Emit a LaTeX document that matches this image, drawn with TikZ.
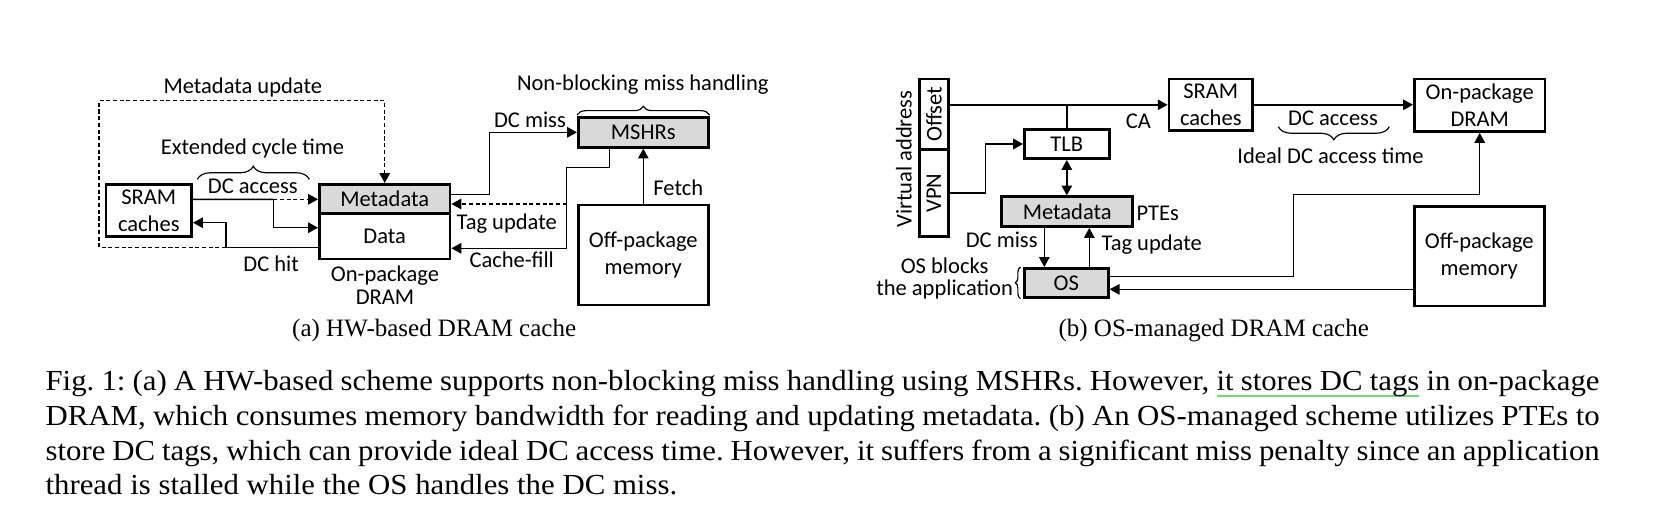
\documentclass[tikz,border=0pt]{standalone}
\usepackage{fontspec}
\setmainfont{Liberation Serif}
\newfontfamily\diagfont{Carlito}
\newfontfamily\capfont[FakeStretch=1.06]{Liberation Serif}
\usepackage{graphicx}
\usetikzlibrary{arrows.meta,calc,decorations.pathreplacing}
\definecolor{meta_gray}{RGB}{217,217,217}
\definecolor{mark_green}{RGB}{102,226,102}
% green underline, word by word, with stretchable underlined spaces
\newcommand{\ulword}[1]{\setbox0\hbox{#1}\rlap{\textcolor{mark_green}{\rule[-2.3pt]{\wd0}{0.5pt}}}\box0{}}
\newcommand{\ulspace}{{\color{mark_green}\leaders\hrule height -1.8pt depth 2.3pt\hskip\fontdimen2\font plus\fontdimen3\font minus\fontdimen4\font}}
\frenchspacing

\begin{document}
\begin{tikzpicture}[x=0.344pt, y=-0.344pt,
    >={Triangle[length=3.4pt,width=3.6pt]},
    every node/.style={inner sep=0pt, font=\diagfont\fontsize{7.75}{9.2}\selectfont},
    blk/.style={draw, line width=0.9pt, fill=white, align=center},
    shaded/.style={blk, fill=meta_gray},
    wire/.style={line width=0.5pt},
    dashwire/.style={wire, dash pattern=on 1.4pt off 0.9pt},
    curly/.style={decorate, decoration={brace, amplitude=#1}, line width=0.4pt},
    curly/.default=4.5pt,
    subcap/.style={anchor=base, font=\rmfamily\fontsize{8.6}{10}\selectfont}]

    \useasboundingbox (0,0) rectangle (1661,527);

    % (a) HW-based DRAM cache
    \node[blk, minimum width=29.5pt, minimum height=18pt] (sram_a) at (148.8,210.5) {SRAM\\caches};
    \node[shaded, minimum width=45pt, minimum height=10pt] (meta_a) at (384.7,198.8) {Metadata};
    \node[blk, minimum width=45pt, minimum height=15.7pt] (data_a) at (384.7,236.2) {Data};
    \node[shaded, minimum width=44.7pt, minimum height=10.3pt] (mshr) at (643.3,132.3) {MSHRs};
    \node[blk, minimum width=44.7pt, minimum height=34.4pt] (offmem_a) at (643.3,255) {Off-package\\memory};

    \node (lbl_update) at (242.8,87.3) {Metadata update};
    \node (lbl_cycle) at (252.5,148.3) {Extended cycle time};
    \node (lbl_access_a) at (252.8,186.7) {DC access};
    \node (lbl_hit) at (271.2,263.3) {DC hit};
    \node[align=center, font=\diagfont\fontsize{7.75}{8}\selectfont] (lbl_dram_a) at (385,285) {On-package\\DRAM};
    \node (lbl_miss_a) at (530,120) {DC miss};
    \node (lbl_tag_a) at (506.7,223.3) {Tag update};
    \node (lbl_fill) at (511.7,259.3) {Cache-fill};
    \node (lbl_fetch) at (678.3,187.7) {Fetch};
    \node (lbl_nonblock) at (642.8,85) {Non-blocking miss handling};

    \coordinate (hit) at (226,247.3);
    \coordinate (upd) at (99,100.7);
    \coordinate (acc) at (273.3,199.3);
    \coordinate (miss) at (489.3,194.3);
    \coordinate (refill) at (566.7,167.3);
    \coordinate (tag_a) at ($(meta_a.east)+(0,5.2)$);

    \draw[wire,->] (hit -| data_a.west) -- (hit) |- ($(sram_a.east)+(0,12.2)$);
    \draw[dashwire,->] (hit) -| (upd) -| (meta_a.north);
    \draw[wire] ($(sram_a.east)+(0,-11.2)$) -- (acc);
    \draw[dashwire,->] (acc) -- (acc -| meta_a.west);
    \draw[wire,->] (acc) |- ($(data_a.west)+(0,-8.5)$);
    \draw[curly] (197.3,179.3) -- (309.3,179.3);

    \draw[wire,->] (miss -| meta_a.east) -- (miss) |- (mshr.west);
    \draw[wire,->] ($(mshr.south)+(-34,0)$) |- (refill) |- ($(data_a.east)+(0,12.1)$);
    \draw[dashwire,->] (refill |- tag_a) -- (tag_a);
    \draw[wire,->] (offmem_a) -- (mshr);
    \draw[curly=3pt] ($(mshr.north west)+(0,-1)$) -- ($(mshr.north east)+(0,-1)$);

    % (b) OS-managed DRAM cache
    \node[blk, minimum width=10pt, minimum height=24.2pt] (offset) at (933.8,114.2) {\rotatebox{90}{Offset}};
    \node[blk, minimum width=10pt, minimum height=30.1pt] (vpn) at (933.8,193) {\rotatebox{90}{VPN}};
    \node[rotate=90] (lbl_va) at (904,159.2) {Virtual address};
    \node[blk, minimum width=29.2pt, minimum height=10.1pt] (tlb) at (1066.8,144) {TLB};
    \node[shaded, minimum width=45pt, minimum height=10.3pt] (meta_b) at (1067.2,211.7) {Metadata};
    \node[shaded, minimum width=28.9pt, minimum height=10pt] (os) at (1066.3,282.8) {OS};
    \node[blk, minimum width=28.8pt, minimum height=17.8pt] (sram_b) at (1210.8,104.8) {SRAM\\caches};
    \node[blk, minimum width=45pt, minimum height=18.1pt] (dram_b) at (1479.7,105.3) {On-package\\DRAM};
    \node[blk, minimum width=44.7pt, minimum height=34.2pt] (offmem_b) at (1479.3,256.3) {Off-package\\memory};

    \node (lbl_ca) at (1138.3,121.7) {CA};
    \node (lbl_ptes) at (1157.8,213.3) {PTEs};
    \node (lbl_miss_b) at (1001.7,240) {DC miss};
    \node (lbl_tag_b) at (1151.7,245) {Tag update};
    \node[align=center, font=\diagfont\fontsize{7.75}{7.6}\selectfont] (lbl_block) at (944.6,278.6) {OS blocks\\the application};
    \node (lbl_access_b) at (1333,118.3) {DC access};
    \node (lbl_ideal) at (1330.5,156) {Ideal DC access time};

    \coordinate (vpnbend) at ($(tlb.west)+(-37.6,0)$);
    \coordinate (up) at (1293.3,194.3);
    \coordinate (ret) at ($(offmem_b.west)+(0,33)$);

    \draw[wire,->] (offset.east |- sram_b.west) -- (sram_b.west);
    \draw[wire] (tlb.north) -- (tlb.north |- sram_b.west);
    \draw[wire,->] (vpn.east) -| (vpnbend) -- (tlb.west);
    \draw[wire,<->] (tlb.south) -- (tlb.south |- meta_b.north);
    \draw[wire,->] ($(meta_b.south)+(-22.9,0)$) coordinate (m_down) -- (m_down |- os.north);
    \draw[wire,->] ($(os.north)+(23,0)$) coordinate (m_up) -- (m_up |- meta_b.south);
    \draw[curly=1.8pt] ($(os.south west)+(-2.5,0)$) -- ($(os.north west)+(-2.5,0)$);
    \draw[wire,->] ($(os.east)+(0,-6.1)$) -| (up) -| (dram_b.south);
    \draw[wire,->] (ret) -- (ret -| os.east);
    \draw[wire,->] (sram_b.east) -- (sram_b.east -| dram_b.west);
    \draw[curly] (1389.3,126.7) -- (1278.3,126.7);

    % captions
    \node[subcap] (cap_a) at (434.2,336.3) {(a) HW-based DRAM cache};
    \node[subcap] (cap_b) at (1213.7,336.3) {(b) OS-managed DRAM cache};
    \node[anchor=north west, text width=534.6pt, align=justify,
          font=\capfont\fontsize{10}{12}\selectfont] (caption) at (45,369.5)
      {Fig. 1: (a) A HW-based scheme supports non-blocking miss handling using MSHRs. However, \ulword{it}\ulspace\ulword{stores}\ulspace\ulword{DC}\ulspace\ulword{tags} in on-package\linebreak
       DRAM, which consumes memory bandwidth for reading and updating metadata. (b) An OS-managed scheme utilizes PTEs to\linebreak
       store DC tags, which can provide ideal DC access time. However, it suffers from a significant miss penalty since an application\linebreak
       thread is stalled while the OS handles the DC miss.};

\end{tikzpicture}
\end{document}
